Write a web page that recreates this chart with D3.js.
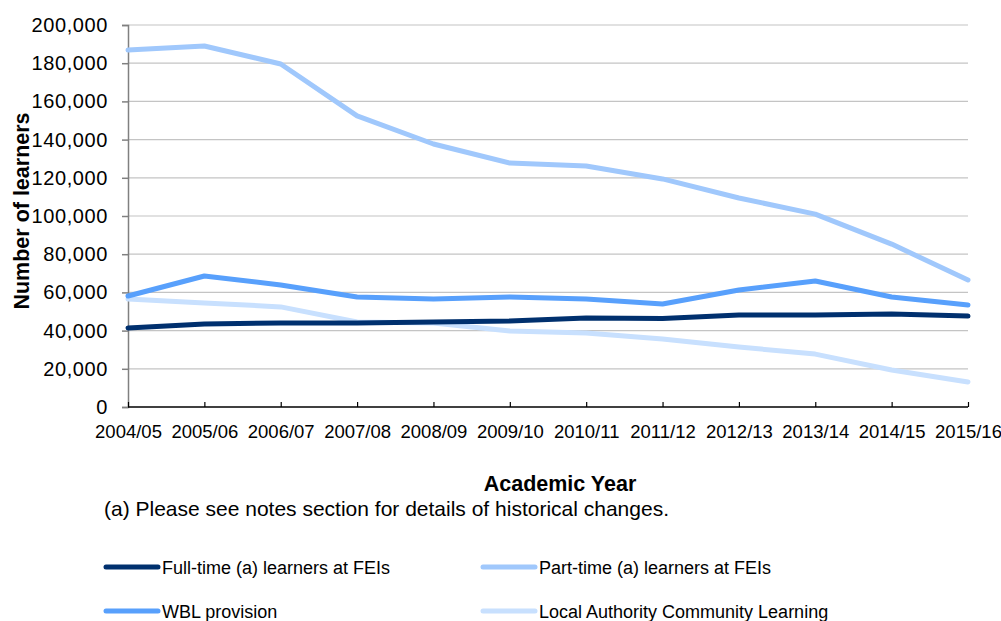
<!DOCTYPE html>
<html><head><meta charset="utf-8">
<script src="https://cdn.jsdelivr.net/npm/d3@7"></script>
<style>body{margin:0;background:#fff}svg{font-family:"Liberation Sans",Arial,sans-serif}</style>
</head><body><svg id="c" width="1001" height="621"></svg>
<script>
const years = ["2004/05","2005/06","2006/07","2007/08","2008/09","2009/10","2010/11","2011/12","2012/13","2013/14","2014/15","2015/16"];
const fullTime = [41400,43500,44000,44000,44500,45000,46600,46300,48200,48200,48700,47600];
const partTime = [186900,189000,179600,152400,137700,127700,126200,119400,109400,101000,85300,66500];
const wbl = [58100,68600,63900,57600,56500,57600,56500,53900,61300,66000,57600,53400];
const lacl = [56500,54500,52400,44500,44000,39800,38700,35600,31400,27700,19400,13100];
const yTicks = [0,20000,40000,60000,80000,100000,120000,140000,160000,180000,200000];
const series = [
  {name:"Part-time (a) learners at FEIs", values:partTime, color:"#a0c8fc"},
  {name:"Local Authority Community Learning", values:lacl, color:"#c8e0fe"},
  {name:"Full-time (a) learners at FEIs", values:fullTime, color:"#00306e"},
  {name:"WBL provision", values:wbl, color:"#58a0fc"}
];
const legendOrder = [2,0,3,1];

const svg = d3.select("#c");
const L=128, R=968, T=25, B=407;
const x = d3.scalePoint().domain(years).range([L,R]);
const y = d3.scaleLinear().domain([0,200000]).range([B,T]);
const fmt = d3.format(",");

// gridlines
svg.append("g").selectAll("line").data(yTicks.filter(d=>d>0)).join("line")
  .attr("x1",L).attr("x2",R).attr("y1",d=>y(d)).attr("y2",d=>y(d))
  .attr("stroke","#c4c4c4").attr("stroke-width",1.2);

// y axis
const ya = svg.append("g").attr("transform",`translate(${L},0)`)
  .call(d3.axisLeft(y).tickValues(yTicks).tickFormat(fmt).tickSize(6).tickPadding(14));
ya.select(".domain").attr("stroke","#808080").attr("stroke-width",1.5);
ya.selectAll(".tick line").attr("stroke","#808080").attr("stroke-width",1.5);
ya.selectAll("text").attr("font-size",20).attr("fill","#000").attr("font-family","Liberation Sans, Arial, sans-serif").attr("letter-spacing","0.6px");

// x axis
const xa = svg.append("g").attr("transform",`translate(0,${B})`)
  .call(d3.axisBottom(x).tickSize(-5).tickPadding(8));
xa.select(".domain").attr("stroke","#000").attr("stroke-width",1.5).attr("d",`M${L},0H${R}`);
xa.selectAll(".tick line").attr("stroke","#000").attr("stroke-width",1.2);
xa.selectAll("text").attr("font-size",18.5).attr("fill","#000").attr("font-family","Liberation Sans, Arial, sans-serif")
  .attr("y",31).attr("dy",0);

// lines
const line = d3.line().x((d,i)=>x(years[i])).y(d=>y(d));
svg.append("g").selectAll("path").data(series).join("path")
  .attr("d",d=>line(d.values)).attr("fill","none").attr("stroke",d=>d.color)
  .attr("stroke-width",5).attr("stroke-linejoin","round").attr("stroke-linecap","round");

// titles
svg.append("text").attr("transform","translate(29,211) rotate(-90)").attr("text-anchor","middle")
  .attr("font-weight","bold").attr("font-size",21.5).text("Number of learners");
svg.append("text").attr("x",560).attr("y",491).attr("text-anchor","middle")
  .attr("font-weight","bold").attr("font-size",21.5).text("Academic Year");
svg.append("text").attr("x",104).attr("y",516).attr("font-size",21).text("(a) Please see notes section for details of historical changes.");

// legend
const lg = svg.append("g");
const pos = [[104,567],[481,567],[104,611],[481,611]];
legendOrder.forEach((si,k)=>{
  const s = series[si], [px,py] = pos[k];
  lg.append("line").attr("x1",px+2).attr("x2",px+54).attr("y1",py).attr("y2",py)
    .attr("stroke",s.color).attr("stroke-width",5).attr("stroke-linecap","round");
  lg.append("text").attr("x",px+58).attr("y",py+6.5).attr("font-size",18).text(s.name);
});
</script></body></html>
